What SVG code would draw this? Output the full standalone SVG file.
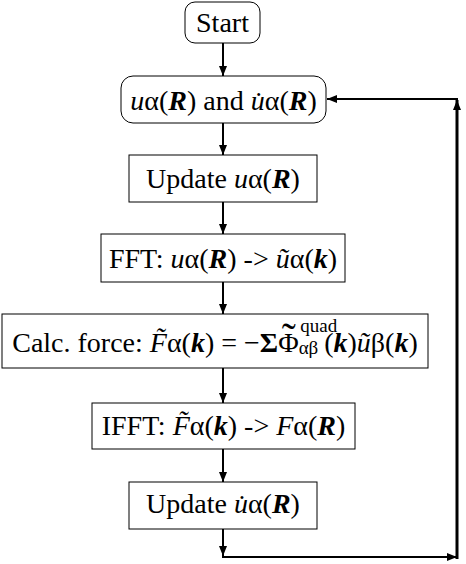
<svg xmlns="http://www.w3.org/2000/svg" width="466" height="564" viewBox="0 0 466 564">
<style>
.box{fill:#fff;stroke:#000;stroke-width:1}
.t{font-family:"Liberation Serif","Times New Roman",serif;font-size:28px;fill:#000;text-anchor:middle}
.i{font-style:italic}
.bi{font-style:italic;font-weight:bold}
.b{font-weight:bold}
.s{font-size:19px}
.tl{font-size:42px}
.ln{fill:none;stroke:#000;stroke-width:2}
.lt{fill:none;stroke:#000;stroke-width:3}
</style>
<defs>
<marker id="ah" viewBox="0 0 10 8" refX="10" refY="4" markerWidth="10" markerHeight="8" markerUnits="userSpaceOnUse" orient="auto">
<path d="M0,0 L10,4 L0,8 Z" fill="#000"/>
</marker>
</defs>
<rect width="466" height="564" fill="#fff"/>
<g id="connectors">
<path class="ln" d="M223,43 V76" marker-end="url(#ah)"/>
<path class="ln" d="M223,123 V155" marker-end="url(#ah)"/>
<path class="ln" d="M223,202 V234" marker-end="url(#ah)"/>
<path class="ln" d="M223,282 V314" marker-end="url(#ah)"/>
<path class="ln" d="M223,368 V403" marker-end="url(#ah)"/>
<path class="ln" d="M223,449 V482" marker-end="url(#ah)"/>
<path class="ln" d="M223,529 V556" marker-end="url(#ah)"/>
<path class="ln" d="M222,557 H457" marker-end="url(#ah)"/>
<path class="lt" d="M457,559 V100" marker-end="url(#ah)"/>
<path class="ln" d="M458,99 H327" marker-end="url(#ah)"/>
</g>
<g id="start">
<rect class="box" x="185" y="2" width="75" height="41" rx="10"/>
<text class="t" x="222.5" y="32">Start</text>
</g>
<g id="init">
<rect class="box" x="121" y="76" width="205" height="47" rx="12"/>
<text class="t" x="223.5" y="110"><tspan class="i">u</tspan>α(<tspan class="bi">R</tspan>) and <tspan class="i">u̇</tspan>α(<tspan class="bi">R</tspan>)</text>
</g>
<g id="update-u">
<rect class="box" x="129" y="155" width="188" height="47"/>
<text class="t" x="223" y="188">Update <tspan class="i">u</tspan>α(<tspan class="bi">R</tspan>)</text>
</g>
<g id="fft">
<rect class="box" x="101" y="234" width="244" height="48"/>
<text class="t" x="223" y="268">FFT: <tspan class="i">u</tspan>α(<tspan class="bi">R</tspan>) -&gt; <tspan class="i">ũ</tspan>α(<tspan class="bi">k</tspan>)</text>
</g>
<g id="calc-force">
<rect class="box" x="2" y="314" width="426" height="54"/>
<text class="t" x="215" y="352">Calc. force: <tspan class="i">F̃</tspan>α(<tspan class="bi">k</tspan>) = −<tspan class="b">Σ</tspan>Φ<tspan class="tl" dx="-17">˜</tspan><tspan class="s" dx="3" dy="2">αβ</tspan><tspan class="s" dx="-18" dy="-22">quad</tspan><tspan dx="-13" dy="20">(</tspan><tspan class="bi">k</tspan>)<tspan class="i">ũ</tspan>β(<tspan class="bi">k</tspan>)</text>
</g>
<g id="ifft">
<rect class="box" x="92" y="403" width="263" height="46"/>
<text class="t" x="223.5" y="435">IFFT: <tspan class="i">F̃</tspan>α(<tspan class="bi">k</tspan>) -&gt; <tspan class="i">F</tspan>α(<tspan class="bi">R</tspan>)</text>
</g>
<g id="update-udot">
<rect class="box" x="129" y="482" width="188" height="47"/>
<text class="t" x="223" y="513">Update <tspan class="i">u̇</tspan>α(<tspan class="bi">R</tspan>)</text>
</g>
</svg>
